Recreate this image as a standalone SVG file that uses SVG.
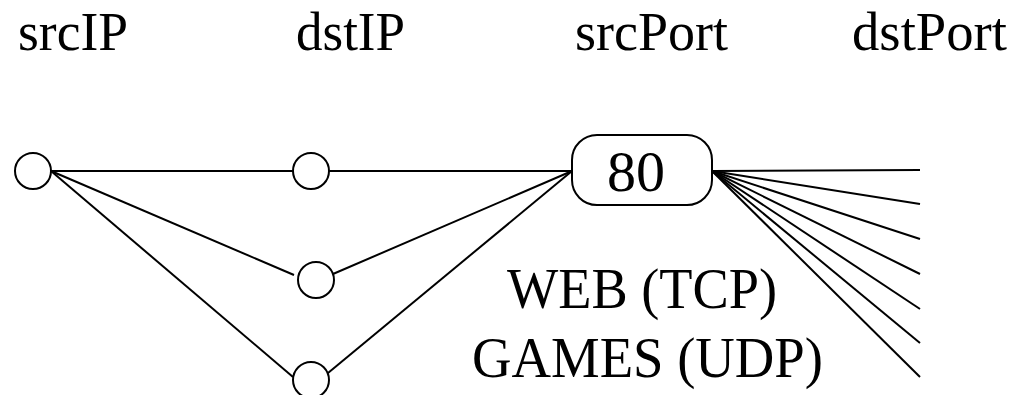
<svg xmlns="http://www.w3.org/2000/svg" width="1014" height="395" viewBox="0 0 1014 395">
<style>
text{font-family:"Liberation Serif","Times New Roman",serif;fill:#000}
.h{font-size:55px}
.b{font-size:57px}
.n{fill:#fff;stroke:#000;stroke-width:2}
.c line{stroke:#000;stroke-width:2}
</style>
<rect width="1014" height="395" fill="#fff"/>
<g id="headers">
<text class="h" x="18" y="50" textLength="110" lengthAdjust="spacingAndGlyphs">srcIP</text>
<text class="h" x="296" y="50" textLength="109" lengthAdjust="spacingAndGlyphs">dstIP</text>
<text class="h" x="575" y="50" textLength="153" lengthAdjust="spacingAndGlyphs">srcPort</text>
<text class="h" x="852" y="50" textLength="155" lengthAdjust="spacingAndGlyphs">dstPort</text>
</g>
<g class="c" id="connectors">
<line x1="51" y1="171" x2="293" y2="171"/>
<line x1="51" y1="171" x2="294" y2="275"/>
<line x1="51" y1="171" x2="293" y2="377"/>
<line x1="329" y1="171" x2="572" y2="171"/>
<line x1="333" y1="274" x2="572" y2="171"/>
<line x1="328" y1="373" x2="572" y2="171"/>
<line x1="712" y1="171" x2="920" y2="170"/>
<line x1="712" y1="171" x2="920" y2="204"/>
<line x1="712" y1="171" x2="920" y2="239"/>
<line x1="712" y1="171" x2="920" y2="274"/>
<line x1="712" y1="171" x2="920" y2="309"/>
<line x1="712" y1="171" x2="920" y2="343"/>
<line x1="712" y1="171" x2="920" y2="377"/>
</g>
<g id="srcip"><circle class="n" cx="33" cy="171" r="18"/></g>
<g id="dstip1"><circle class="n" cx="311" cy="171" r="18"/></g>
<g id="dstip2"><circle class="n" cx="316" cy="280" r="18"/></g>
<g id="dstip3"><circle class="n" cx="311" cy="380" r="18"/></g>
<g id="port80"><rect class="n" x="572" y="135" width="140" height="70" rx="25"/>
<text class="b" x="636" y="191" text-anchor="middle" style="font-size:58px">80</text></g>
<g id="labels">
<text class="b" x="507" y="308" textLength="270" lengthAdjust="spacingAndGlyphs">WEB (TCP)</text>
<text class="b" x="472" y="377" textLength="351" lengthAdjust="spacingAndGlyphs">GAMES (UDP)</text>
</g>
</svg>
